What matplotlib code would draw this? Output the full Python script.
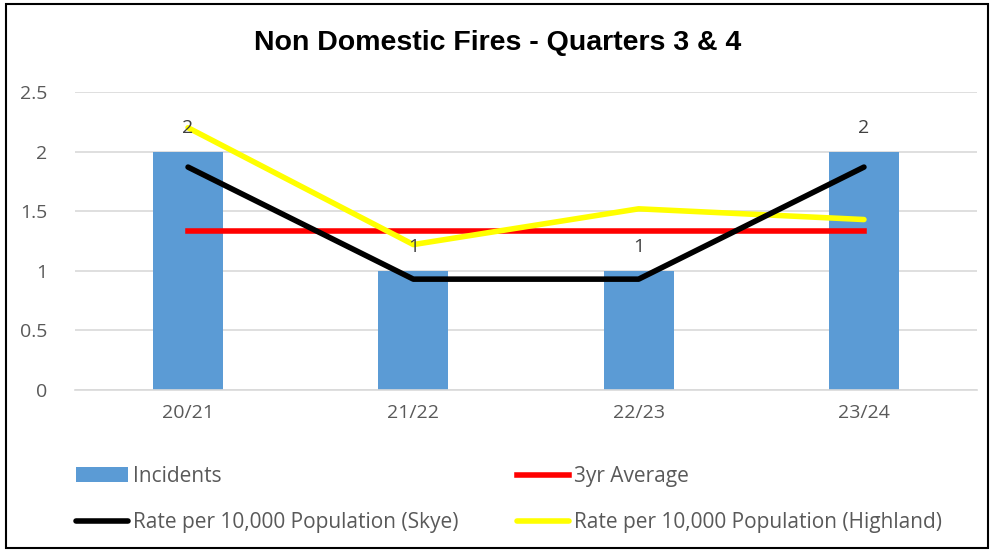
import matplotlib.pyplot as plt
from matplotlib.patches import Rectangle

years = ['20/21', '21/22', '22/23', '23/24']
incidents = [2, 1, 1, 2]
avg3yr = [1.333, 1.333, 1.333, 1.333]
rateSkye = [1.87, 0.93, 0.93, 1.87]
rateHighland = [2.20, 1.22, 1.52, 1.43]

plt.rcParams['font.family'] = ['Open Sans', 'DejaVu Sans']
textColor = '#595959'

fig = plt.figure(figsize=(9.95, 5.5), dpi=100)
ax = fig.add_axes([75.4 / 995, 1 - 390 / 550, (976.6 - 75.4) / 995, (390 - 92) / 550])

x = list(range(len(years)))
ax.bar(x, incidents, width=0.31, color='#5b9bd5', label='Incidents', zorder=2)
ax.plot(x, avg3yr, color='#ff0000', lw=4, label='3yr Average', zorder=3)
ax.plot(x, rateSkye, color='black', lw=4, solid_capstyle='round', label='Rate per 10,000 Population (Skye)', zorder=4)
ax.plot(x, rateHighland, color='#ffff00', lw=4, solid_capstyle='round', label='Rate per 10,000 Population (Highland)', zorder=3)

for xi, v in zip(x, incidents):
    ax.annotate(str(v), (xi, v), xytext=(0, 24), textcoords='offset pixels',
                ha='center', va='center', fontsize=14, color='#404040', zorder=5)

ax.set_xlim(-0.5, 3.5)
ax.set_ylim(0, 2.5)
ax.set_yticks([0, 0.5, 1, 1.5, 2, 2.5])
ax.set_yticklabels(['0', '0.5', '1', '1.5', '2', '2.5'])
ax.set_xticks(x)
ax.set_xticklabels(years)
ax.tick_params(axis='both', length=0, labelsize=14, labelcolor=textColor)
ax.tick_params(axis='y', pad=20)
ax.tick_params(axis='x', pad=10)
ax.grid(axis='y', color='#d9d9d9', lw=1.2, zorder=0)
for s in ['top', 'right', 'left']:
    ax.spines[s].set_visible(False)
ax.spines['bottom'].set_color('#d9d9d9')
ax.spines['bottom'].set_linewidth(1.2)

fig.text(0.5, 1 - 43 / 550, 'Non Domestic Fires - Quarters 3 & 4', ha='center', va='center',
         fontsize=20.5, fontweight='bold', family=['Liberation Sans'])

h, l = ax.get_legend_handles_labels()
names = ['Incidents', 'Rate per 10,000 Population (Skye)', '3yr Average', 'Rate per 10,000 Population (Highland)']
handles = [h[l.index(n)] for n in names]
fig.legend(handles, names, ncol=2, loc='upper left', bbox_to_anchor=(76 / 995, 1 - 466 / 550),
           frameon=False, fontsize=15, labelcolor=textColor, handlelength=2.5, handletextpad=0.25,
           columnspacing=2.8, labelspacing=1.2, borderaxespad=0, borderpad=0)

fig.patches.append(Rectangle((6 / 995, 2 / 550), 982 / 995, 544 / 550, transform=fig.transFigure,
                             fill=False, edgecolor='black', lw=1.5))

plt.savefig('out.png', dpi=100)
